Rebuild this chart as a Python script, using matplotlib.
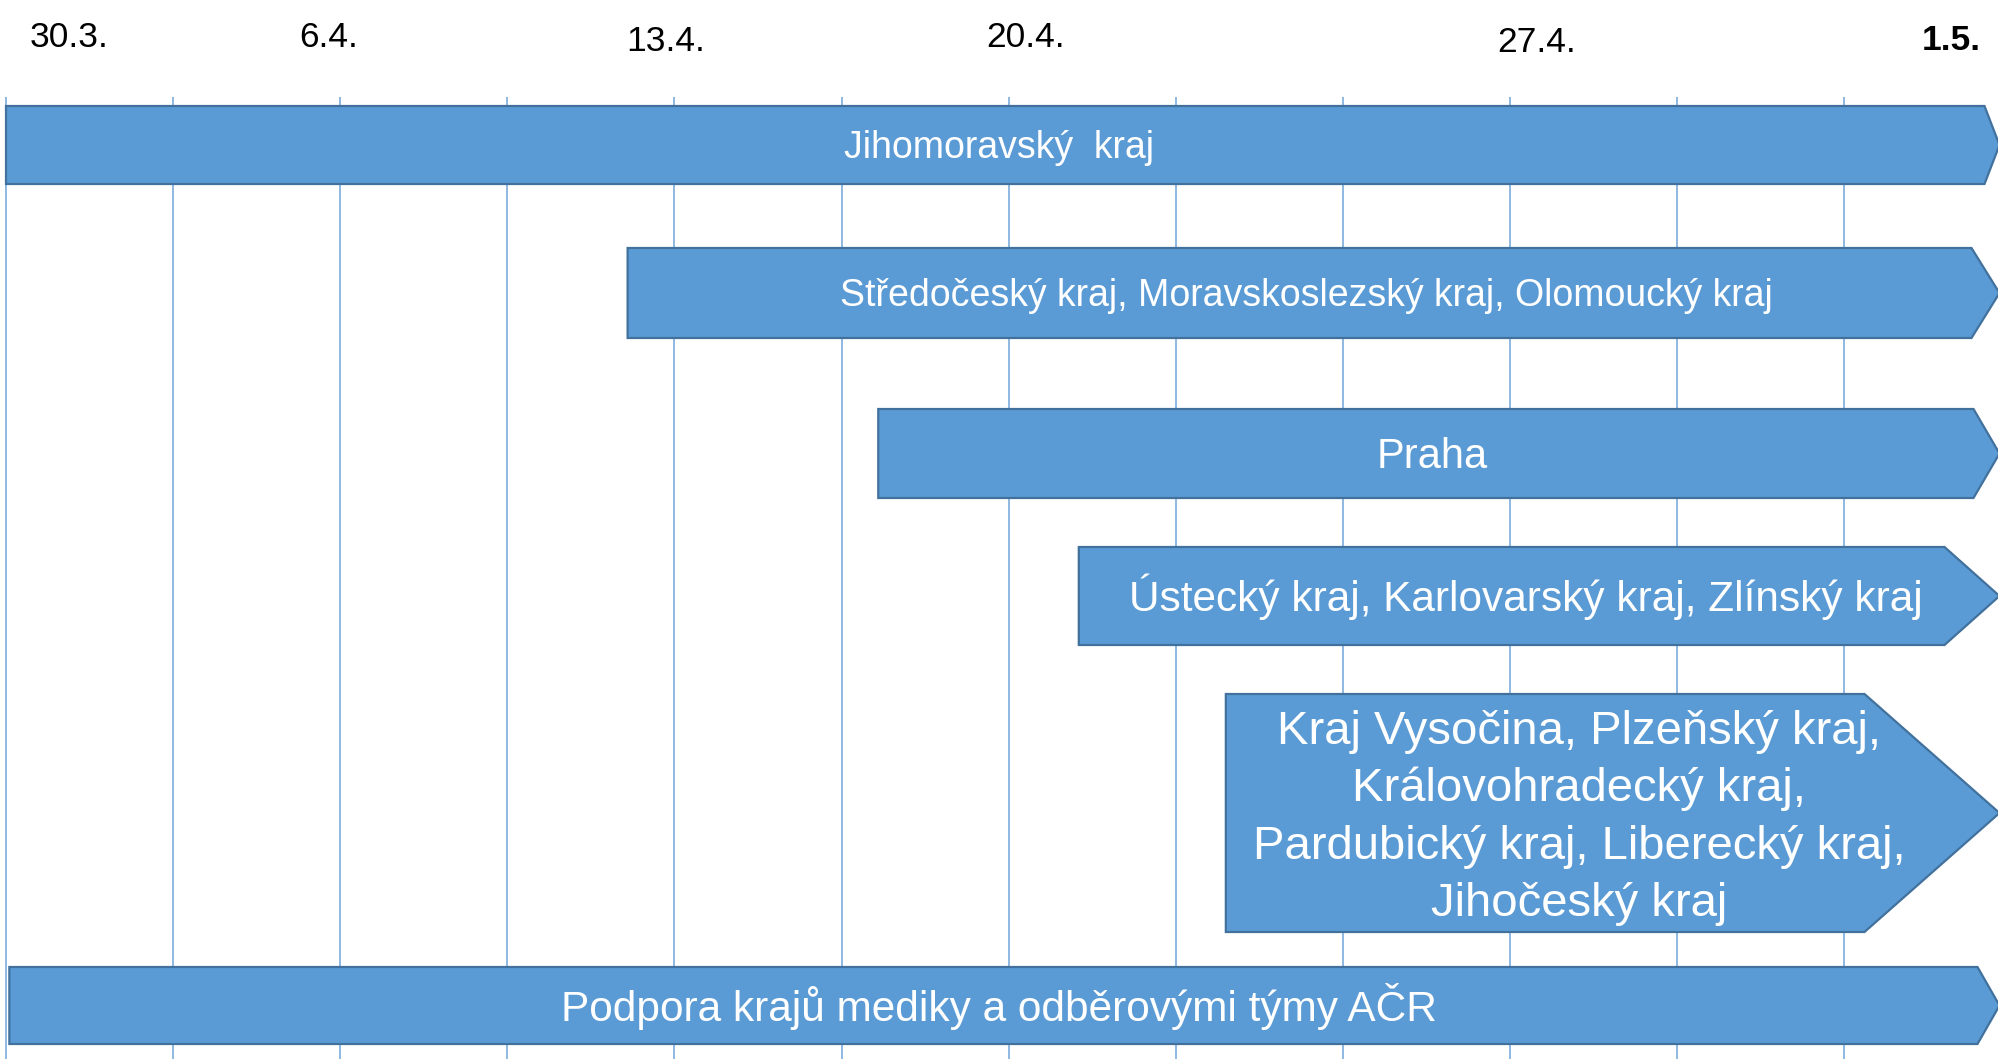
import matplotlib
matplotlib.use("Agg")
import matplotlib.pyplot as plt
from matplotlib.patches import Polygon

# ---------------- data ----------------
labels = [
    "Jihomoravský  kraj",
    "Středočeský kraj, Moravskoslezský kraj, Olomoucký kraj",
    "Praha",
    "Ústecký kraj, Karlovarský kraj, Zlínský kraj",
    "Kraj Vysočina, Plzeňský kraj,\nKrálovohradecký kraj,\nPardubický kraj, Liberecký kraj,\nJihočeský kraj",
    "Podpora krajů mediky a odběrovými týmy AČR",
]
# start / end of each arrow in timeline units (one unit = one grid column)
starts = [0.00, 3.72, 5.22, 6.42, 7.30, 0.02]
ends = [11.93, 11.93, 11.93, 11.93, 11.93, 11.93]

date_labels = ["30.3.", "6.4.", "13.4.", "20.4.", "27.4.", "1.5."]
date_pos = [0.377, 1.933, 3.95, 6.104, 9.162, 11.64]
date_bold = [False, False, False, False, False, True]

grid_cols = list(range(12))

# ---------------- layout / style ----------------
W, H = 1999, 1059
DPI = 100
PX = 167.1          # pixels per timeline unit
X0 = 6.0            # pixel of unit 0
row_top = [106, 248, 409, 547, 694, 967]       # pixel rows (y grows downward)
row_bot = [184, 338, 498, 645, 932, 1044]
head_px = [15, 28, 26, 55, 135, 22]
font_sizes = [27, 27, 30, 30.5, 34, 30.5]
line_px = 57.3
date_base_y = [47, 47, 51, 47, 52, 50]

FILL = "#5B9BD5"
EDGE = "#41719C"
GRID = "#6FA6DA"
FONT = "Liberation Sans"

fig = plt.figure(figsize=(W / DPI, H / DPI), dpi=DPI)
ax = fig.add_axes([0, 0, 1, 1])
ax.set_xlim(-X0 / PX, (W - X0) / PX)
ax.set_ylim(H, 0)
ax.axis("off")

# vertical grid lines
ax.vlines(grid_cols, 97, H, colors=GRID, linewidth=1.1, zorder=1)

# arrows
for lab, s, e, top, bot, hp, fs in zip(labels, starts, ends, row_top, row_bot,
                                        head_px, font_sizes):
    mid = (top + bot) / 2
    notch = e - hp / PX
    poly = Polygon([(s, top), (notch, top), (e, mid), (notch, bot), (s, bot)],
                   closed=True, facecolor=FILL, edgecolor=EDGE, linewidth=1.6,
                   joinstyle="miter", zorder=2)
    ax.add_patch(poly)
    cx = (s + e) / 2 - (hp / 4) / PX
    lines = lab.split("\n")
    n = len(lines)
    fpx = fs * DPI / 72
    cap = 0.716 * fpx
    for i, ln in enumerate(lines):
        base = mid - (n - 1) / 2 * line_px + cap / 2 + i * line_px
        ax.text(cx, base, ln, ha="center", va="baseline", color="white",
                fontsize=fs, family=FONT, zorder=3)

# date labels
for lab, xp, yb, b in zip(date_labels, date_pos, date_base_y, date_bold):
    ax.text(xp, yb, lab, ha="center", va="baseline", color="black",
            fontsize=25.5, family=FONT, fontweight="bold" if b else "normal")

fig.savefig("out.png", dpi=DPI)
